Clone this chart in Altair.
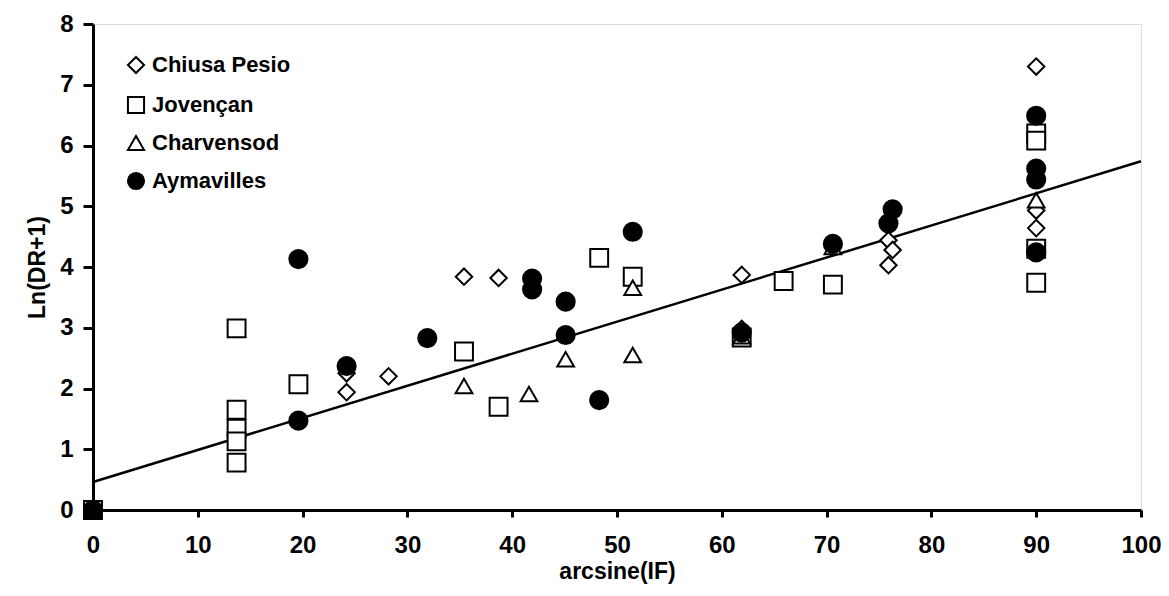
import altair as alt
import pandas as pd

series_names = ["Chiusa Pesio", "Jovençan", "Charvensod", "Aymavilles"]

chiusa_x = [0, 24.2, 24.2, 28.2, 35.4, 38.7, 61.9, 61.9, 75.9, 76.3, 75.9, 90, 90, 90]
chiusa_y = [0, 2.25, 1.94, 2.20, 3.84, 3.82, 3.87, 2.98, 4.44, 4.28, 4.03, 7.30, 4.93, 4.64]

jovencan_x = [0, 13.7, 13.7, 13.7, 13.7, 13.7, 19.6, 35.4, 38.7, 48.3, 51.5, 61.9, 65.9, 70.6, 90, 90, 90, 90]
jovencan_y = [0, 2.99, 1.65, 1.34, 1.13, 0.78, 2.07, 2.61, 1.70, 4.15, 3.84, 2.84, 3.77, 3.71, 6.20, 6.08, 4.30, 3.74]

charvensod_x = [0, 35.4, 41.6, 45.1, 51.5, 51.5, 61.9, 70.6, 90]
charvensod_y = [0, 2.04, 1.91, 2.48, 3.66, 2.55, 2.86, 4.33, 5.10]

aymavilles_x = [0, 19.6, 19.6, 24.2, 31.9, 41.9, 41.9, 45.1, 45.1, 48.3, 51.5, 61.9, 70.6, 75.9, 76.3, 90, 90, 90, 90]
aymavilles_y = [0, 4.13, 1.47, 2.37, 2.83, 3.81, 3.63, 3.43, 2.88, 1.81, 4.58, 2.92, 4.38, 4.72, 4.95, 6.49, 5.62, 5.44, 4.24]

fit_x = [0, 100]
fit_y = [0.46, 5.74]

x_ticks = [0, 10, 20, 30, 40, 50, 60, 70, 80, 90, 100]
y_ticks = [0, 1, 2, 3, 4, 5, 6, 7, 8]

marker_sizes = {"Chiusa Pesio": 270, "Jovençan": 320, "Charvensod": 280, "Aymavilles": 330}

rows = []
for name, xs, ys in [
    ("Chiusa Pesio", chiusa_x, chiusa_y),
    ("Jovençan", jovencan_x, jovencan_y),
    ("Charvensod", charvensod_x, charvensod_y),
    ("Aymavilles", aymavilles_x, aymavilles_y),
]:
    for xv, yv in zip(xs, ys):
        rows.append({"series": name, "x": xv, "y": yv, "msize": marker_sizes[name]})
df = pd.DataFrame(rows)
line_df = pd.DataFrame({"x": fit_x, "y": fit_y})

FONT = "Liberation Sans"
x_scale = alt.Scale(domain=[0, 100], nice=False, zero=True)
y_scale = alt.Scale(domain=[0, 8], nice=False, zero=True)

x_axis = alt.Axis(
    title="arcsine(IF)", values=x_ticks, grid=False, format="d",
    labelFont=FONT, labelFontSize=24, labelFontWeight="bold", labelColor="black",
    titleFont=FONT, titleFontSize=23, titleFontWeight="bold", titleColor="black",
    tickSize=7, tickWidth=3, tickColor="black", domainWidth=3, domainColor="black",
    labelPadding=16, titlePadding=3, labelFlush=False,
)
y_axis = alt.Axis(
    title="Ln(DR+1)", values=y_ticks, grid=False, format="d",
    labelFont=FONT, labelFontSize=24, labelFontWeight="bold", labelColor="black",
    titleFont=FONT, titleFontSize=23, titleFontWeight="bold", titleColor="black",
    tickSize=10, tickWidth=3, tickColor="black", domainWidth=3, domainColor="black",
    labelPadding=10, titlePadding=10, labelFlush=False,
)

legend = alt.Legend(
    title=None, orient="none", legendX=32, legendY=30, padding=0,
    labelFont=FONT, labelFontSize=22, labelFontWeight="bold", labelColor="black",
    symbolSize=260, symbolStrokeWidth=2, symbolStrokeColor="black",
    rowPadding=14, labelOffset=5,
)

shape_scale = alt.Scale(domain=series_names, range=["diamond", "square", "triangle-up", "circle"])
fill_scale = alt.Scale(domain=series_names, range=["white", "white", "white", "black"])
stroke_scale = alt.Scale(domain=series_names, range=["black", "black", "black", "black"])

line = alt.Chart(line_df).mark_line(color="black", strokeWidth=2.5).encode(
    x=alt.X("x:Q", scale=x_scale, axis=x_axis),
    y=alt.Y("y:Q", scale=y_scale, axis=y_axis),
)

points = alt.Chart(df).mark_point(filled=True, strokeWidth=2, opacity=1).encode(
    x=alt.X("x:Q", scale=x_scale, axis=x_axis),
    y=alt.Y("y:Q", scale=y_scale, axis=y_axis),
    shape=alt.Shape("series:N", scale=shape_scale, legend=legend),
    fill=alt.Fill("series:N", scale=fill_scale, legend=legend),
    stroke=alt.Stroke("series:N", scale=stroke_scale, legend=legend),
    size=alt.Size("msize:Q", scale=None, legend=None),
    order=alt.Order("idx:Q"),
).transform_window(idx="row_number()")

chart = alt.layer(line, points).properties(
    width=1048, height=486,
    padding={"left": 85, "top": 16, "right": 20, "bottom": 74},
    autosize=alt.AutoSizeParams(type="none"),
).configure_view(stroke="black", strokeWidth=3).configure(background="white")

chart.save("out.html", embed_options={"renderer": "svg", "actions": False})
